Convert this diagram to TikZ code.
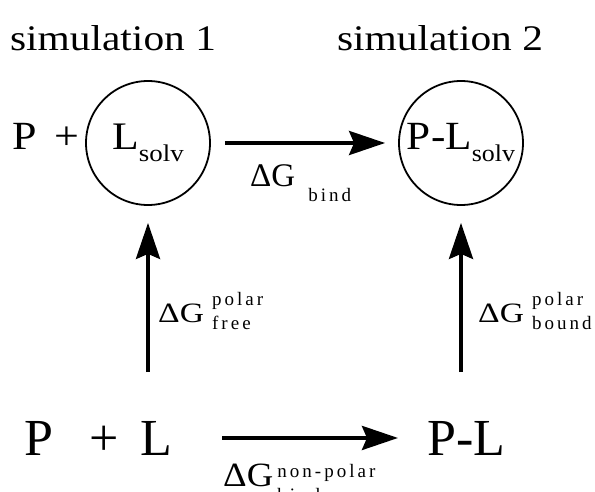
\documentclass[tikz,border=0pt]{standalone}
\usepackage{fontspec}
\setmainfont{Liberation Serif}
\newfontfamily\trk[LetterSpace=16]{Liberation Serif}
\usetikzlibrary{arrows.meta,positioning}
\newcommand{\fs}[1]{\fontsize{#1}{#1}\selectfont}
\newcommand{\hstr}[2][1.15]{\scalebox{#1}[1]{#2}}
\newcommand{\scr}[2]{\raisebox{#1}{\fontsize{19}{24}\selectfont\trk\begin{tabular}[b]{@{}l@{}}#2\end{tabular}}}
\tikzset{
  txt/.style  ={inner sep=0pt,anchor=base west},
  circ/.style ={draw,circle,line width=1.8pt,minimum size=124pt,inner sep=0pt},
  arr/.style  ={line width=4pt,-{Stealth[length=36pt,width=24pt,inset=5pt]}},
}
\begin{document}
\begin{tikzpicture}[x=1pt,y=-1pt]
  \useasboundingbox (0,0) rectangle (595,492);
  \node[txt,anchor=base,font=\fs{36}] (sim1) at (113,51) {\hstr{simulation 1}};
  \node[txt,anchor=base,font=\fs{36}] (sim2) at (440,51) {\hstr{simulation 2}};
  % top row
  \node[circ] (Ls) at (148,143) {\hstr[1.12]{\fs{39}L\raisebox{-12pt}{\fs{24}solv}}};
  \node[circ] (Rs) at (461,143) {\hstr[1.08]{\fs{40}P-L\raisebox{-12pt}{\fs{24}solv}}};
  \node[txt,font=\fs{40}] (Pt) at (12,150) {\hstr[1.1]{P\hspace{16pt}+}};
  % bottom row
  \node[txt,font=\fs{52}] (PL) at (24,455) {P\hspace{36pt}+\hspace{22pt}L};
  \node[txt,font=\fs{52}] (PLb) at (427,455) {P-L};
  \coordinate (lo1) at (148,372);
  \coordinate (lo2) at (461,372);
  \draw[arr,shorten <=14pt,shorten >=13pt] (Ls) -- (Rs);
  \draw[arr,shorten <=50pt,shorten >=29pt] (PL) -- (PLb);
  \draw[arr,shorten >=17pt] (lo1) -- (Ls);
  \draw[arr,shorten >=17pt] (lo2) -- (Rs);
  % labels
  \node[txt,font=\fs{33}] (gb) at (250,187) {ΔG\hspace{13pt}\scr{-15pt}{bind}};
  \node[txt,font=\fs{28}] (gf) at (158,322) {\hstr[1.2]{ΔG}\hspace{8pt}\scr{-7pt}{polar\\free}};
  \node[txt,font=\fs{28}] (gbd) at (478,322) {\hstr[1.2]{ΔG}\hspace{8pt}\scr{-7pt}{polar\\bound}};
  \node[txt,font=\fs{34}] (gn) at (223,486) {\hstr[1.08]{ΔG}\hspace{4pt}\scr{-15pt}{non\hspace{3pt}-polar\\bind}};
\end{tikzpicture}
\end{document}
